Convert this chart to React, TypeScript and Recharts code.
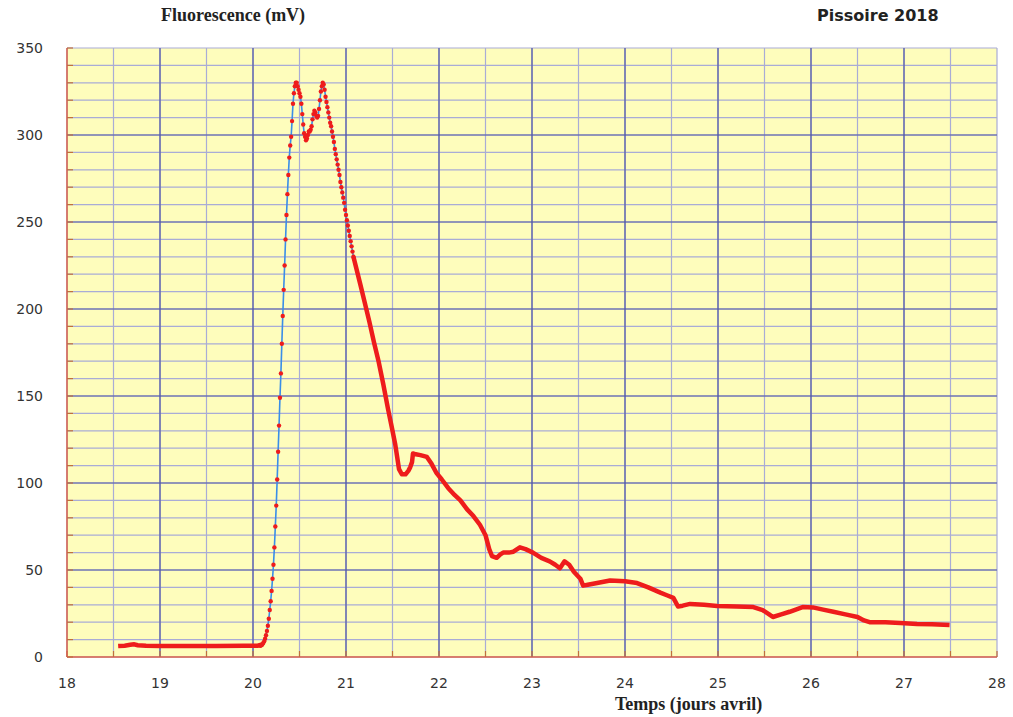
import React from 'react';
import {
  CartesianGrid,
  Line,
  LineChart,
  ReferenceLine,
  XAxis,
  YAxis,
} from 'recharts';

// Fluorescence (mV) vs temps (jours d'avril) — Pissoire 2018

const X_TICKS = [18, 18.5, 19, 19.5, 20, 20.5, 21, 21.5, 22, 22.5, 23, 23.5, 24, 24.5, 25, 25.5, 26, 26.5, 27, 27.5, 28];
const Y_TICKS = [0, 10, 20, 30, 40, 50, 60, 70, 80, 90, 100, 110, 120, 130, 140, 150, 160, 170, 180, 190, 200, 210, 220, 230, 240, 250, 260, 270, 280, 290, 300, 310, 320, 330, 340, 350];
const X_MAJOR = [19, 20, 21, 22, 23, 24, 25, 26, 27];
const Y_MAJOR = [50, 100, 150, 200, 250, 300];

// ligne de base avant l'injection
const baseline = [
  { t: 18.55, v: 6.3 }, { t: 18.62, v: 6.5 }, { t: 18.68, v: 7.0 }, { t: 18.72, v: 7.3 },
  { t: 18.76, v: 6.8 }, { t: 18.85, v: 6.5 }, { t: 19.0, v: 6.3 }, { t: 19.3, v: 6.3 },
  { t: 19.6, v: 6.3 }, { t: 19.9, v: 6.4 }, { t: 20.05, v: 6.5 }, { t: 20.1, v: 7.2 },
];

// montée + double pic (points de mesure visibles)
const rise = [
  { t: 20.08, v: 6.5 }, { t: 20.09, v: 6.8 }, { t: 20.1, v: 7.2 }, { t: 20.11, v: 8 },
  { t: 20.12, v: 9 }, { t: 20.13, v: 10.5 }, { t: 20.14, v: 12.5 }, { t: 20.15, v: 15 },
  { t: 20.16, v: 18 }, { t: 20.17, v: 22 }, { t: 20.18, v: 27 }, { t: 20.19, v: 32 },
  { t: 20.2, v: 38 }, { t: 20.21, v: 45 }, { t: 20.22, v: 53 }, { t: 20.23, v: 63 },
  { t: 20.24, v: 75 }, { t: 20.25, v: 87 }, { t: 20.26, v: 102 }, { t: 20.27, v: 118 },
  { t: 20.28, v: 133 }, { t: 20.29, v: 149 }, { t: 20.3, v: 163 }, { t: 20.31, v: 180 },
  { t: 20.32, v: 196 }, { t: 20.33, v: 211 }, { t: 20.34, v: 225 }, { t: 20.35, v: 240 },
  { t: 20.36, v: 254 }, { t: 20.37, v: 266 }, { t: 20.38, v: 277 }, { t: 20.39, v: 287 },
  { t: 20.4, v: 294 }, { t: 20.41, v: 299 }, { t: 20.42, v: 308 }, { t: 20.43, v: 318 },
  { t: 20.44, v: 324 }, { t: 20.45, v: 328 }, { t: 20.46, v: 330 }, { t: 20.47, v: 330 },
  { t: 20.48, v: 328 }, { t: 20.49, v: 326 }, { t: 20.5, v: 324 }, { t: 20.51, v: 322 },
  { t: 20.52, v: 318 }, { t: 20.53, v: 312 }, { t: 20.54, v: 306 }, { t: 20.55, v: 301 },
  { t: 20.56, v: 299 }, { t: 20.57, v: 297 }, { t: 20.58, v: 298 }, { t: 20.59, v: 300 },
  { t: 20.6, v: 302 }, { t: 20.61, v: 302 }, { t: 20.62, v: 303 }, { t: 20.63, v: 305 },
  { t: 20.64, v: 309 }, { t: 20.65, v: 312 }, { t: 20.66, v: 314 }, { t: 20.67, v: 313 },
  { t: 20.68, v: 311 }, { t: 20.69, v: 310 }, { t: 20.7, v: 311 }, { t: 20.71, v: 315 },
  { t: 20.72, v: 320 }, { t: 20.73, v: 325 }, { t: 20.74, v: 328 }, { t: 20.75, v: 330 },
  { t: 20.76, v: 329 }, { t: 20.77, v: 326 }, { t: 20.78, v: 322 }, { t: 20.79, v: 319 },
  { t: 20.8, v: 316 }, { t: 20.81, v: 313 }, { t: 20.82, v: 310 }, { t: 20.83, v: 307 },
  { t: 20.84, v: 305 }, { t: 20.85, v: 302 }, { t: 20.86, v: 299 }, { t: 20.87, v: 296 },
  { t: 20.88, v: 292 }, { t: 20.89, v: 289 }, { t: 20.9, v: 286 }, { t: 20.91, v: 283 },
  { t: 20.92, v: 280 }, { t: 20.93, v: 277 }, { t: 20.94, v: 273 }, { t: 20.95, v: 270 },
  { t: 20.96, v: 267 }, { t: 20.97, v: 264 }, { t: 20.98, v: 261 }, { t: 20.99, v: 257 },
  { t: 21.0, v: 254 }, { t: 21.01, v: 251 }, { t: 21.02, v: 248 }, { t: 21.03, v: 245 },
  { t: 21.04, v: 242 }, { t: 21.05, v: 239 }, { t: 21.06, v: 236 }, { t: 21.07, v: 233 },
  { t: 21.08, v: 230 },
];

// décroissance (points très serrés → trait rouge épais)
const decay = [
  { t: 21.08, v: 230 }, { t: 21.15, v: 215 }, { t: 21.2, v: 204 }, { t: 21.25, v: 193 },
  { t: 21.3, v: 181 }, { t: 21.35, v: 170 }, { t: 21.4, v: 157 }, { t: 21.45, v: 143 },
  { t: 21.5, v: 130 }, { t: 21.53, v: 122 }, { t: 21.55, v: 115 }, { t: 21.57, v: 108 },
  { t: 21.6, v: 105 }, { t: 21.64, v: 105 }, { t: 21.67, v: 107 }, { t: 21.69, v: 109 },
  { t: 21.71, v: 112 }, { t: 21.72, v: 117 }, { t: 21.75, v: 116.5 }, { t: 21.8, v: 116 },
  { t: 21.87, v: 115 }, { t: 21.92, v: 111 }, { t: 21.97, v: 106 }, { t: 22.03, v: 102 },
  { t: 22.1, v: 97 }, { t: 22.17, v: 93 }, { t: 22.23, v: 90 }, { t: 22.3, v: 85 },
  { t: 22.37, v: 81 }, { t: 22.44, v: 76 }, { t: 22.5, v: 70 }, { t: 22.54, v: 62 },
  { t: 22.57, v: 58 }, { t: 22.62, v: 57 }, { t: 22.66, v: 59 }, { t: 22.69, v: 60 },
  { t: 22.75, v: 60 }, { t: 22.8, v: 60.5 }, { t: 22.87, v: 63 }, { t: 22.93, v: 62 },
  { t: 23.01, v: 60 }, { t: 23.1, v: 57 }, { t: 23.19, v: 55 }, { t: 23.25, v: 53 },
  { t: 23.3, v: 51 }, { t: 23.35, v: 55 }, { t: 23.4, v: 53 }, { t: 23.45, v: 49 },
  { t: 23.52, v: 45 }, { t: 23.55, v: 41 }, { t: 23.6, v: 41.5 }, { t: 23.7, v: 42.5 },
  { t: 23.84, v: 44 }, { t: 24.0, v: 43.5 }, { t: 24.13, v: 42.5 }, { t: 24.25, v: 40 },
  { t: 24.38, v: 37 }, { t: 24.45, v: 35.5 }, { t: 24.52, v: 34 }, { t: 24.57, v: 29 },
  { t: 24.62, v: 29.5 }, { t: 24.7, v: 30.5 }, { t: 24.85, v: 30 }, { t: 24.99, v: 29.3 },
  { t: 25.2, v: 29 }, { t: 25.38, v: 28.7 }, { t: 25.48, v: 27 }, { t: 25.55, v: 24.5 },
  { t: 25.59, v: 23 }, { t: 25.68, v: 24.5 }, { t: 25.77, v: 26 }, { t: 25.91, v: 28.7 },
  { t: 26.02, v: 28.5 }, { t: 26.13, v: 27.2 }, { t: 26.24, v: 26 }, { t: 26.37, v: 24.5 },
  { t: 26.5, v: 23 }, { t: 26.57, v: 21 }, { t: 26.63, v: 20 }, { t: 26.8, v: 20 },
  { t: 26.96, v: 19.5 }, { t: 27.14, v: 19 }, { t: 27.3, v: 18.8 }, { t: 27.49, v: 18.4 },
];

const RED = '#ee1c1c';
const BLUE = '#3a8ee8';
const BORDER = '#d9604c';
const TICK_MARK = '#c0703c';
const GRID_MINOR = '#a9acd6';
const GRID_MAJOR = '#4f57a6';
const tickFont = { fontSize: 14, fill: '#333', fontFamily: 'DejaVu Sans' };

export default function App() {
  return (
    <div style={{ position: 'absolute', left: 0, top: 0, width: 1013, height: 717, background: '#fff' }}>
      <div
        style={{
          position: 'absolute', left: 161, top: 5, fontFamily: 'Liberation Serif',
          fontWeight: 'bold', fontSize: 18, color: '#222', whiteSpace: 'nowrap',
        }}
      >
        Fluorescence (mV)
      </div>
      <div
        style={{
          position: 'absolute', left: 817, top: 6, fontFamily: 'DejaVu Sans',
          fontWeight: 'bold', fontSize: 16, color: '#222', whiteSpace: 'nowrap',
        }}
      >
        Pissoire 2018
      </div>
      <div
        style={{
          position: 'absolute', left: 615, top: 694, fontFamily: 'Liberation Serif',
          fontWeight: 'bold', fontSize: 18, color: '#222', whiteSpace: 'nowrap',
        }}
      >
        Temps (jours avril)
      </div>
      <LineChart width={1013} height={717} margin={{ top: 48, right: 16, bottom: 30, left: 0 }}>
        <CartesianGrid stroke={GRID_MINOR} strokeWidth={1.2} fill="#fefdbc" fillOpacity={1} />
        {Y_MAJOR.map((y) => (
          <ReferenceLine key={`y${y}`} y={y} stroke={GRID_MAJOR} strokeWidth={1.2} />
        ))}
        {X_MAJOR.map((x) => (
          <ReferenceLine key={`x${x}`} x={x} stroke={GRID_MAJOR} strokeWidth={1.2} />
        ))}
        <XAxis
          type="number"
          dataKey="t"
          domain={[18, 28]}
          ticks={X_TICKS}
          interval={0}
          allowDataOverflow
          height={30}
          tickSize={-6}
          tickMargin={27}
          tickLine={{ stroke: TICK_MARK, strokeWidth: 1.2 }}
          axisLine={{ stroke: BORDER, strokeWidth: 1.5 }}
          tick={tickFont}
          tickFormatter={(v: number) => (Number.isInteger(v) ? String(v) : '')}
        />
        <XAxis
          xAxisId="top"
          orientation="top"
          type="number"
          domain={[18, 28]}
          ticks={X_TICKS}
          interval={0}
          allowDataOverflow
          height={0}
          tickSize={-6}
          tick={false}
          tickLine={{ stroke: TICK_MARK, strokeWidth: 1.2 }}
          axisLine={{ stroke: BORDER, strokeWidth: 1.5 }}
        />
        <YAxis
          type="number"
          domain={[0, 350]}
          ticks={Y_TICKS}
          interval={0}
          allowDataOverflow
          width={67}
          tickSize={-6}
          tickMargin={30}
          tickLine={{ stroke: TICK_MARK, strokeWidth: 1.2 }}
          axisLine={{ stroke: BORDER, strokeWidth: 1.5 }}
          tick={tickFont}
          tickFormatter={(v: number) => (v % 50 === 0 ? String(v) : '')}
        />
        <YAxis
          yAxisId="right"
          orientation="right"
          type="number"
          domain={[0, 350]}
          ticks={Y_TICKS}
          interval={0}
          allowDataOverflow
          width={0}
          tickSize={-6}
          tick={false}
          tickLine={{ stroke: TICK_MARK, strokeWidth: 1.2 }}
          axisLine={{ stroke: BORDER, strokeWidth: 1.5 }}
        />
        <Line
          data={baseline}
          dataKey="v"
          type="linear"
          stroke={RED}
          strokeWidth={4.5}
          dot={false}
          isAnimationActive={false}
        />
        <Line
          data={decay}
          dataKey="v"
          type="linear"
          stroke={RED}
          strokeWidth={4.5}
          strokeLinejoin="round"
          dot={false}
          isAnimationActive={false}
        />
        <Line
          data={rise}
          dataKey="v"
          type="linear"
          stroke={BLUE}
          strokeWidth={1.6}
          dot={{ r: 2.2, fill: RED, stroke: 'none' }}
          isAnimationActive={false}
        />
      </LineChart>
    </div>
  );
}
